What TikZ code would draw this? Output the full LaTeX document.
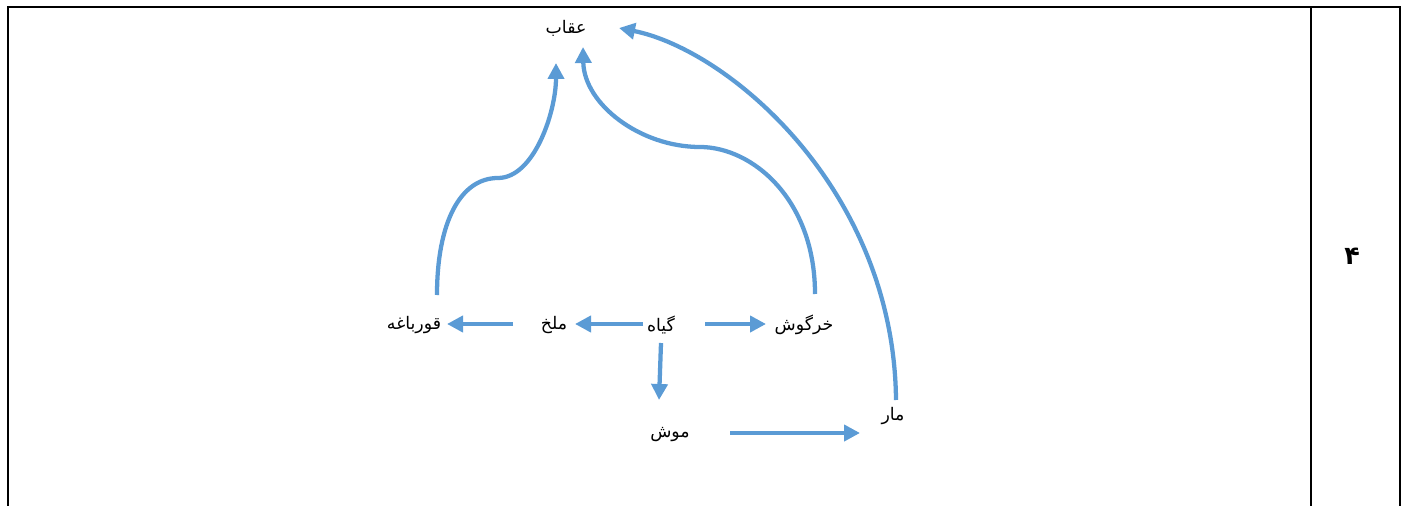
\documentclass[tikz,border=0pt]{standalone}
\usepackage{fontspec}
\usepackage{tikz}
\usetikzlibrary{arrows.meta, calc}
\TeXXeTstate=1
\newfontfamily\persianfont[Script=Arabic]{DejaVu Sans}
\newcommand{\fatext}[1]{{\persianfont\beginR #1\endR}}
\definecolor{flowblue}{HTML}{5B9BD5}
\tikzstyle{organism} = [inner sep=0pt, font=\fontsize{13}{15}\selectfont]
\tikzstyle{arrow} = [-{Triangle[length=12pt, width=12pt]}, line width=3.2pt, flowblue]
\tikzstyle{frame} = [line width=1.9pt, black]

\begin{document}
\begin{tikzpicture}[x=0.75pt, y=-0.75pt]
  \useasboundingbox (0,0) rectangle (1409,506);

  % Table frame
  \draw[frame] (8,506) -- (8,7) -- (1400,7) -- (1400,506);
  \draw[frame] (1311,7) -- (1311,506);
  \node[inner sep=0pt, font=\fontsize{19}{21}\selectfont\bfseries] (row) at (1352,256) {\fatext{۴}};

  % Organisms
  \node[organism] (oqab) at (566,28) {\fatext{عقاب}};
  \node[organism] (qurbagheh) at (414,325) {\fatext{قورباغه}};
  \node[organism] (malakh) at (554,325) {\fatext{ملخ}};
  \node[organism] (giah) at (661,325) {\fatext{گیاه}};
  \node[organism] (khargush) at (804,325) {\fatext{خرگوش}};
  \node[organism] (mush) at (670,435) {\fatext{موش}};
  \node[organism] (mar) at (893,416) {\fatext{مار}};

  % Straight links
  \draw[arrow] ($(giah)+(-18,-1)$) -- ($(malakh)+(21,-1)$);
  \draw[arrow] ($(malakh)+(-41,-1)$) -- ($(qurbagheh)+(33,-1)$);
  \draw[arrow] ($(giah)+(44,-1)$) -- ($(khargush)+(-38,-1)$);
  \draw[arrow] ($(giah)+(0,18)$) -- ($(mush)+(-11,-35)$);
  \draw[arrow] ($(mush)+(60,-2)$) -- ($(mar)+(-33,17)$);

  % Curved links to the eagle
  \draw[arrow] ($(qurbagheh)+(23,-30)$) .. controls +(0,-72) and (460,178) .. (498,178)
    .. controls (534,178) and (556,112) .. ($(oqab)+(-10,35)$);
  \draw[arrow] ($(khargush)+(11,-31)$) .. controls +(0,-95) and (752,147) .. (700,147)
    .. controls (640,147) and (584,104) .. ($(oqab)+(17,19)$);
  \draw[arrow] ($(mar)+(3,-16)$) .. controls +(-2,-210) and +(110,22) .. ($(oqab)+(53,0)$);

\end{tikzpicture}
\end{document}
